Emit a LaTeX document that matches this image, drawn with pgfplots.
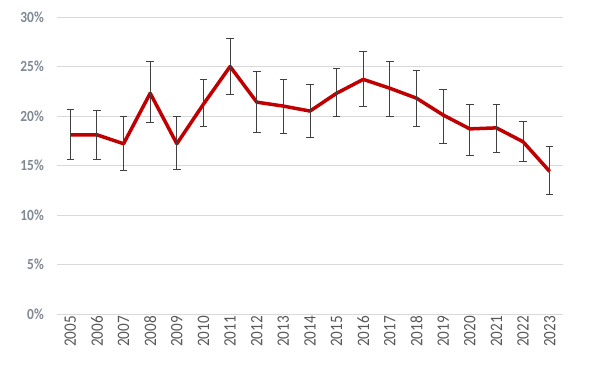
\documentclass[border=0pt]{standalone}
\usepackage{pgfplots}
\pgfplotsset{compat=1.18}
\usepackage{pgfplotstable}
\usepackage{fontspec}
\setmainfont{Carlito}[FakeStretch=0.87]
\definecolor{linered}{HTML}{C00000}
\definecolor{gridgray}{HTML}{D9D9D9}
\definecolor{lblblue}{HTML}{7F8895}
\definecolor{yeargray}{HTML}{595959}
\definecolor{errgray}{HTML}{404040}
\pgfplotstableread{
x year val ep em
0 2005 18.1 2.6 2.5
1 2006 18.1 2.5 2.5
2 2007 17.2 2.7 2.7
3 2008 22.3 3.2 3.0
4 2009 17.2 2.7 2.6
5 2010 21.2 2.5 2.3
6 2011 25.0 2.8 2.8
7 2012 21.4 3.1 3.1
8 2013 21.0 2.7 2.8
9 2014 20.5 2.7 2.7
10 2015 22.3 2.5 2.4
11 2016 23.7 2.8 2.7
12 2017 22.8 2.7 2.9
13 2018 21.8 2.8 2.9
14 2019 20.1 2.6 2.9
15 2020 18.7 2.5 2.7
16 2021 18.8 2.4 2.5
17 2022 17.4 2.0 2.0
18 2023 14.4 2.5 2.3
}\datatable
\begin{document}
\begin{tikzpicture}[x=1bp,y=1bp]
\begin{axis}[
  scale only axis,
  width=506bp, height=297bp,
  xmin=-0.5, xmax=18.5,
  ymin=0, ymax=30,
  ytick={0,5,...,30},
  yticklabel={\pgfmathprintnumber{\tick}\%},
  xtick={0,...,18},
  xticklabels={2005,2006,2007,2008,2009,2010,2011,2012,2013,2014,2015,2016,2017,2018,2019,2020,2021,2022,2023},
  xticklabel style={rotate=90, anchor=east, font=\fontsize{17.5}{19}\selectfont, text=yeargray, inner sep=2bp},
  yticklabel style={font=\fontsize{15.5}{17}\selectfont\bfseries, text=lblblue, inner sep=2bp, xshift=-11bp},
  /pgf/number format/assume math mode=true,
  axis line style={draw=none},
  ymajorgrids, grid style={gridgray, line width=1bp},
  major tick length=0pt,
  tick style={draw=none},
  clip=false,
]
\addplot[linered, line width=3.5bp, line join=round,
  error bars/.cd, y dir=both, y explicit,
  error bar style={errgray, line width=1bp},
  error mark options={errgray, line width=1bp, mark size=3.8bp, rotate=90}]
  table[x=x, y=val, y error plus=ep, y error minus=em] {\datatable};
\end{axis}
\path (-57bp,-76bp) rectangle (543bp,314bp);
\end{tikzpicture}
\end{document}
